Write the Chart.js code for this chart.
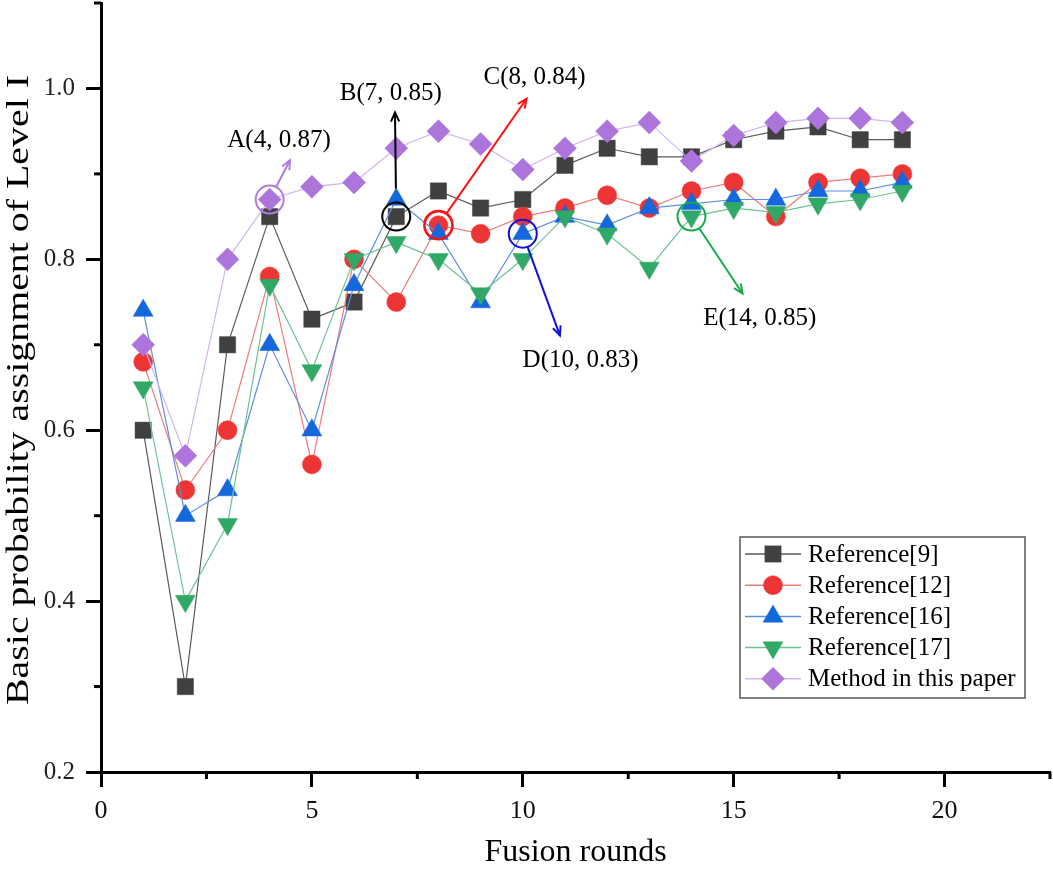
<!DOCTYPE html>
<html><head><meta charset="utf-8">
<script src="https://cdn.jsdelivr.net/npm/chart.js@4.4.1/dist/chart.umd.min.js"></script>
<style>html,body{margin:0;padding:0;background:#fff;overflow:hidden}#wrap{width:1053px;height:876px;position:relative}</style>
</head><body><div id="wrap"><canvas id="c" width="1053" height="876"></canvas></div>
<script>
// ---------- data ----------
const rounds  = [1,2,3,4,5,6,7,8,9,10,11,12,13,14,15,16,17,18,19];
const ref9    = [0.60,0.30,0.70,0.85,0.73,0.75,0.85,0.88,0.86,0.87,0.91,0.93,0.92,0.92,0.94,0.95,0.955,0.94,0.94];
const ref12   = [0.68,0.53,0.60,0.78,0.56,0.80,0.75,0.84,0.83,0.85,0.86,0.875,0.86,0.88,0.89,0.85,0.89,0.895,0.90];
const ref16   = [0.74,0.50,0.53,0.70,0.60,0.77,0.87,0.83,0.75,0.83,0.85,0.84,0.86,0.865,0.87,0.87,0.88,0.88,0.89];
const ref17   = [0.65,0.40,0.49,0.77,0.67,0.80,0.82,0.80,0.76,0.80,0.85,0.83,0.79,0.85,0.86,0.855,0.865,0.87,0.88];
const method  = [0.70,0.57,0.80,0.87,0.885,0.89,0.93,0.95,0.935,0.905,0.93,0.95,0.96,0.915,0.945,0.96,0.965,0.965,0.96];
const seriesNames = ['Reference[9]','Reference[12]','Reference[16]','Reference[17]','Method in this paper'];

// annotated points
const markLabels = ['A(4, 0.87)','B(7, 0.85)','C(8, 0.84)','D(10, 0.83)','E(14, 0.85)'];
const markX      = [4, 7, 8, 10, 14];
const markY      = [0.87, 0.85, 0.84, 0.83, 0.85];
const arrowEndX  = [4.48, 6.97, 10.09, 10.88, 15.21];
const arrowEndY  = [0.916, 0.972, 0.988, 0.711, 0.76];
const labelX     = [4.22, 6.87, 10.28, 11.37, 15.62];
const labelY     = [0.939, 0.994, 1.013, 0.682, 0.731];

const xTitle = 'Fusion rounds';
const yTitle = 'Basic probability assignment of Level I';

// ---------- styles ----------
const markColor = ['#404040','#ee3535','#1467dd','#30a866','#ad74dc'];
const lineColor = ['#5a5a5a','#f07a7a','#5b8fe6','#6cc392','#d3b4f2'];
const pStyle    = ['rect','circle','triangle','triangle','rectRot'];
const pRadius   = [11.5,9.5,11.5,11.5,11.5];
const pRot      = [0,0,0,180,0];
const annColor  = ['#b27ae0','#000000','#ff1010','#1010dd','#14aa4c'];
const SERIF = '"Liberation Serif", "Times New Roman", serif';

function mk(i, vals){
  return {
    label: seriesNames[i],
    data: rounds.map((r,k)=>({x:r,y:vals[k]})),
    borderColor: lineColor[i], borderWidth: 1.2,
    backgroundColor: markColor[i],
    pointBackgroundColor: markColor[i], pointBorderColor: markColor[i], pointBorderWidth: 0.5,
    pointStyle: pStyle[i], pointRadius: pRadius[i], pointRotation: pRot[i],
    pointHoverRadius: pRadius[i],
    tension: 0, order: 5-i
  };
}

const minorTicks = {
  id:'minorTicks',
  afterDraw(chart){
    const ctx = chart.ctx, xs = chart.scales.x, ys = chart.scales.y, ca = chart.chartArea;
    ctx.save(); ctx.strokeStyle='#000'; ctx.lineWidth=3;
    xs.ticks.forEach(t=>{ if (Math.abs(t.value/5 - Math.round(t.value/5))>1e-6){
      const p = xs.getPixelForValue(t.value); ctx.beginPath(); ctx.moveTo(p, ca.bottom); ctx.lineTo(p, ca.bottom+7); ctx.stroke(); }});
    ys.ticks.forEach(t=>{ const v=Math.round(t.value*10); if (v%2!==0){
      const p = ys.getPixelForValue(t.value); ctx.beginPath(); ctx.moveTo(ca.left, p); ctx.lineTo(ca.left-7, p); ctx.stroke(); }});
    // y title stretched along its length
    ctx.fillStyle='#000'; ctx.font='31px '+SERIF;
    const w = ctx.measureText(yTitle).width;
    ctx.translate(20, 390); ctx.rotate(-Math.PI/2); ctx.scale(630/w,1);
    ctx.textAlign='center'; ctx.textBaseline='middle'; ctx.fillText(yTitle,0,0);
    ctx.restore();
  }
};

const annotations = {
  id:'annotations',
  afterDatasetsDraw(chart){
    const ctx = chart.ctx, xs = chart.scales.x, ys = chart.scales.y;
    ctx.save();
    markLabels.forEach((lab,i)=>{
      const cx = xs.getPixelForValue(markX[i]), cy = ys.getPixelForValue(markY[i]);
      const ex = xs.getPixelForValue(arrowEndX[i]), ey = ys.getPixelForValue(arrowEndY[i]);
      ctx.strokeStyle = annColor[i]; ctx.lineWidth = (i===2)?2.6:2;
      ctx.beginPath(); ctx.arc(cx, cy, 14, 0, Math.PI*2); ctx.stroke();
      const ang = Math.atan2(ey-cy, ex-cx);
      const gap = (i===1)?28:14;
      const sx = cx + Math.cos(ang)*gap, sy = cy + Math.sin(ang)*gap;
      ctx.lineWidth = 2;
      ctx.beginPath(); ctx.moveTo(sx,sy); ctx.lineTo(ex,ey); ctx.stroke();
      const hl = 10, ha = 0.42;
      ctx.beginPath();
      ctx.moveTo(ex - hl*Math.cos(ang-ha), ey - hl*Math.sin(ang-ha));
      ctx.lineTo(ex, ey);
      ctx.lineTo(ex - hl*Math.cos(ang+ha), ey - hl*Math.sin(ang+ha));
      ctx.stroke();
      ctx.fillStyle = '#000'; ctx.font = '25px '+SERIF; ctx.textAlign='center'; ctx.textBaseline='middle';
      ctx.fillText(lab, xs.getPixelForValue(labelX[i]), ys.getPixelForValue(labelY[i]));
    });
    // legend box
    const bx=740, by=537, bw=285, bh=161;
    ctx.fillStyle='#fff'; ctx.fillRect(bx,by,bw,bh);
    ctx.strokeStyle='#555'; ctx.lineWidth=1.5; ctx.strokeRect(bx,by,bw,bh);
    chart.data.datasets.forEach((ds,i)=>{
      const y = 554 + i*31.2;
      ctx.strokeStyle = ds.borderColor; ctx.lineWidth = 1.5;
      ctx.beginPath(); ctx.moveTo(745,y); ctx.lineTo(801,y); ctx.stroke();
      ctx.fillStyle = ds.pointBackgroundColor; ctx.strokeStyle = ds.pointBorderColor; ctx.lineWidth = 0.5;
      Chart.helpers.drawPoint(ctx, {pointStyle: ds.pointStyle, radius: ds.pointRadius, rotation: ds.pointRotation, borderWidth: 0.5}, 773, y);
      ctx.fillStyle='#000'; ctx.font='25px '+SERIF; ctx.textAlign='left'; ctx.textBaseline='middle';
      ctx.fillText(ds.label, 808, y+1);
    });
    ctx.restore();
  }
};

new Chart(document.getElementById('c'), {
  type:'line',
  data:{ datasets:[mk(0,ref9),mk(1,ref12),mk(2,ref16),mk(3,ref17),mk(4,method)] },
  options:{
    responsive:false, animation:false, devicePixelRatio:1,
    layout:{ autoPadding:false, padding:{ top:3, right:3, left:0, bottom:0 } },
    plugins:{ legend:{display:false}, tooltip:{enabled:false} },
    scales:{
      x:{ type:'linear', min:0, max:22.5,
        ticks:{ stepSize:2.5, autoSkip:false, maxRotation:0, padding:9, color:'#111',
          font:{family:SERIF, size:26},
          callback:(v)=> (Math.abs(v/5-Math.round(v/5))<1e-6) ? String(Math.round(v)) : '' },
        grid:{ drawOnChartArea:false, tickLength:15, tickWidth:3,
          tickColor:(c)=> (c.tick && Math.abs(c.tick.value/5-Math.round(c.tick.value/5))<1e-6) ? '#000' : 'rgba(0,0,0,0)' },
        border:{ display:true, color:'#000', width:3 },
        title:{ display:true, text:xTitle, color:'#000', font:{family:SERIF, size:32}, padding:{top:4,bottom:4} },
        afterFit:(s)=>{ s.height = 104; s.paddingLeft = 0; s.paddingRight = 0; }
      },
      y:{ type:'linear', min:0.2, max:1.1,
        ticks:{ stepSize:0.1, autoSkip:false, padding:11, color:'#222',
          font:{family:SERIF, size:25},
          callback:(v)=>{ const k=Math.round(v*10); return k%2===0 ? (k/10).toFixed(1) : ''; } },
        grid:{ drawOnChartArea:false, tickLength:15, tickWidth:3,
          tickColor:(c)=> (c.tick && Math.round(c.tick.value*10)%2===0) ? '#000' : 'rgba(0,0,0,0)' },
        border:{ display:true, color:'#000', width:3 },
        afterFit:(s)=>{ s.width = 101; s.paddingTop = 0; s.paddingBottom = 0; }
      }
    }
  },
  plugins:[minorTicks, annotations]
});
</script>
</body></html>
